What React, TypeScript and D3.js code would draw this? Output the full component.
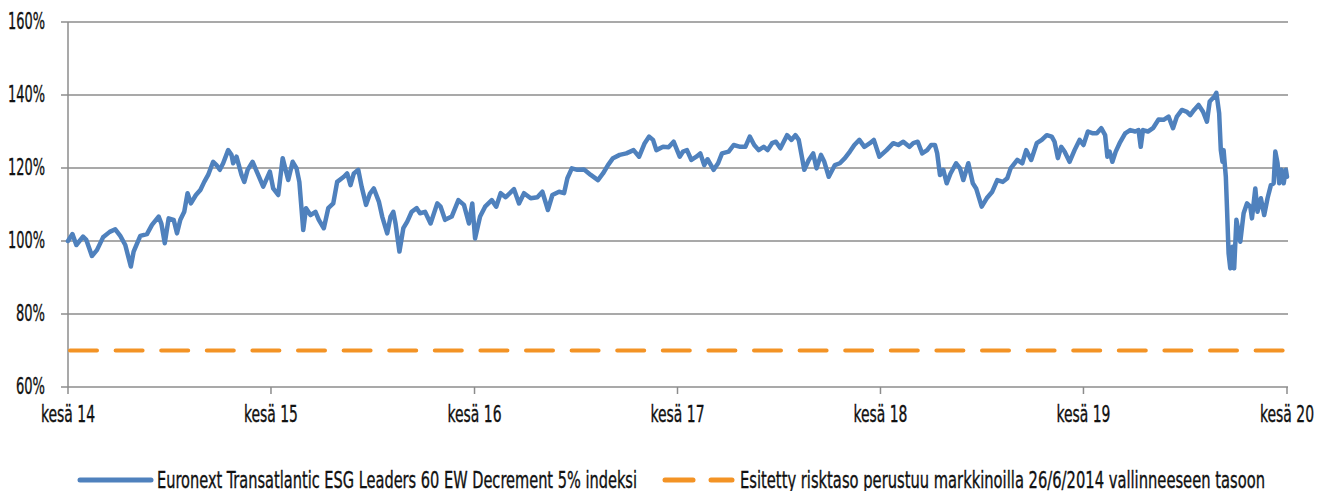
import { useMemo } from "react";
import * as d3 from "d3";

const WIDTH = 1330;
const HEIGHT = 491;
const MARGIN = { top: 22, right: 43, bottom: 104, left: 68 };

const FONT = "'Liberation Sans Narrow', 'DejaVu Sans Condensed', sans-serif";

const seriesNames = [
  "Euronext Transatlantic ESG Leaders 60 EW Decrement 5% indeksi",
  "Esitetty risktaso perustuu markkinoilla 26/6/2014 vallinneeseen tasoon",
];
const riskLevel = 70;

const yTicks = [60, 80, 100, 120, 140, 160];
const xTickDates = ["2014-06-26", "2015-06-26", "2016-06-26", "2017-06-26", "2018-06-26", "2019-06-26", "2020-06-26"];
const xTickLabels = ["kesä 14", "kesä 15", "kesä 16", "kesä 17", "kesä 18", "kesä 19", "kesä 20"];

// index level in % of 26/6/2014
const obsDates = [
  "2014-06-26", "2014-07-04", "2014-07-11", "2014-07-23", "2014-07-29", "2014-08-08", "2014-08-17", "2014-08-28",
  "2014-09-09", "2014-09-19", "2014-09-28", "2014-10-07", "2014-10-17", "2014-10-22", "2014-11-03", "2014-11-15",
  "2014-11-24", "2014-12-06", "2014-12-11", "2014-12-17", "2014-12-24",
  "2015-01-02", "2015-01-08", "2015-01-14", "2015-01-21", "2015-01-27", "2015-02-02", "2015-02-11", "2015-02-19",
  "2015-02-26", "2015-03-05", "2015-03-14", "2015-03-20", "2015-03-26", "2015-04-01", "2015-04-10", "2015-04-16",
  "2015-04-19", "2015-04-25", "2015-05-04", "2015-05-09", "2015-05-15", "2015-05-24", "2015-06-03", "2015-06-12",
  "2015-06-24", "2015-06-30", "2015-07-09", "2015-07-17", "2015-07-27", "2015-08-04", "2015-08-11", "2015-08-16",
  "2015-08-23", "2015-08-28", "2015-09-05", "2015-09-14", "2015-09-20", "2015-09-29", "2015-10-07", "2015-10-16",
  "2015-10-23", "2015-11-04", "2015-11-10", "2015-11-16", "2015-11-22", "2015-11-30", "2015-12-06", "2015-12-14",
  "2015-12-21", "2015-12-28",
  "2016-01-06", "2016-01-12", "2016-01-21", "2016-01-27", "2016-02-01", "2016-02-05", "2016-02-12", "2016-02-19",
  "2016-02-26", "2016-03-05", "2016-03-14", "2016-03-20", "2016-03-29", "2016-04-08", "2016-04-20", "2016-04-26",
  "2016-05-04", "2016-05-16", "2016-05-28", "2016-06-07", "2016-06-16", "2016-06-22", "2016-06-27", "2016-07-06",
  "2016-07-15", "2016-07-27", "2016-08-04", "2016-08-12", "2016-08-21", "2016-09-05", "2016-09-14", "2016-09-23",
  "2016-10-05", "2016-10-17", "2016-10-26", "2016-11-05", "2016-11-13", "2016-11-25", "2016-12-04", "2016-12-10",
  "2016-12-18", "2016-12-28",
  "2017-01-09", "2017-01-21", "2017-02-03", "2017-02-12", "2017-02-21", "2017-03-02", "2017-03-14", "2017-03-26",
  "2017-04-08", "2017-04-18", "2017-04-28", "2017-05-06", "2017-05-13", "2017-05-19", "2017-05-31", "2017-06-10",
  "2017-06-19", "2017-06-30", "2017-07-06", "2017-07-13", "2017-07-21", "2017-07-30", "2017-08-06", "2017-08-13",
  "2017-08-19", "2017-08-30", "2017-09-07", "2017-09-14", "2017-09-26", "2017-10-05", "2017-10-17", "2017-10-26",
  "2017-11-03", "2017-11-11", "2017-11-19", "2017-11-28", "2017-12-05", "2017-12-13", "2017-12-20", "2017-12-28",
  "2018-01-09", "2018-01-17", "2018-01-24", "2018-01-30", "2018-02-09", "2018-02-17", "2018-02-25", "2018-03-03",
  "2018-03-11", "2018-03-17", "2018-03-25", "2018-04-05", "2018-04-14", "2018-04-23", "2018-05-02", "2018-05-10",
  "2018-05-19", "2018-05-28", "2018-06-07", "2018-06-14", "2018-06-24", "2018-07-07", "2018-07-19", "2018-07-28",
  "2018-08-06", "2018-08-17", "2018-08-24", "2018-09-01", "2018-09-09", "2018-09-18", "2018-09-25", "2018-10-02",
  "2018-10-06", "2018-10-11", "2018-10-17", "2018-10-23", "2018-10-30", "2018-11-09", "2018-11-16", "2018-11-22",
  "2018-12-01", "2018-12-09", "2018-12-15", "2018-12-25",
  "2019-01-03", "2019-01-13", "2019-01-22", "2019-02-01", "2019-02-09", "2019-02-15", "2019-02-27", "2019-03-08",
  "2019-03-15", "2019-03-24", "2019-04-03", "2019-04-12", "2019-04-21", "2019-04-30", "2019-05-05", "2019-05-11",
  "2019-05-17", "2019-05-23", "2019-06-01", "2019-06-10", "2019-06-19", "2019-06-26", "2019-07-04", "2019-07-13",
  "2019-07-20", "2019-07-28", "2019-08-04", "2019-08-08", "2019-08-12", "2019-08-17", "2019-08-23", "2019-08-30",
  "2019-09-09", "2019-09-18", "2019-09-27", "2019-10-03", "2019-10-07", "2019-10-11", "2019-10-20", "2019-10-29",
  "2019-11-08", "2019-11-17", "2019-11-26", "2019-12-04", "2019-12-11", "2019-12-20", "2019-12-29",
  "2020-01-04", "2020-01-11", "2020-01-19", "2020-01-27", "2020-02-03", "2020-02-08", "2020-02-16", "2020-02-20",
  "2020-02-25", "2020-02-28", "2020-03-02", "2020-03-04", "2020-03-08", "2020-03-10", "2020-03-13", "2020-03-16",
  "2020-03-20", "2020-03-23", "2020-03-27", "2020-04-03", "2020-04-09", "2020-04-15", "2020-04-21", "2020-04-24",
  "2020-04-30", "2020-05-04", "2020-05-10", "2020-05-16", "2020-05-22", "2020-05-28", "2020-06-02", "2020-06-05",
  "2020-06-09", "2020-06-12", "2020-06-16", "2020-06-20", "2020-06-24", "2020-06-26",
];

const indexLevels = [
  100.0, 101.9, 98.9, 101.2, 100.3, 95.9, 97.5, 101.0,
  102.5, 103.2, 101.4, 98.9, 93.0, 97.1, 101.4, 101.9,
  104.4, 106.7, 104.7, 99.4, 106.2,
  105.8, 102.1, 105.8, 108.0, 113.1, 110.3, 112.6, 114.0,
  116.2, 118.1, 121.7, 120.8, 119.5, 121.3, 124.9, 123.6,
  121.3, 123.1, 118.1, 116.2, 119.5, 121.7, 118.1, 114.9,
  119.0, 114.4, 112.6, 122.7, 116.7, 121.7, 119.9, 116.2,
  103.0, 109.0, 107.1, 108.0, 105.8, 103.5, 109.0, 110.3,
  116.2, 117.6, 118.5, 115.3, 118.5, 119.5, 114.9, 109.9,
  113.0, 114.4,
  110.8, 106.7, 102.1, 106.7, 108.0, 104.8, 97.1, 103.5,
  105.3, 108.0, 109.0, 107.6, 108.0, 104.8, 110.3, 109.4,
  105.8, 106.7, 111.2, 109.9, 104.8, 110.3, 100.7, 106.7,
  109.4, 111.2, 109.4, 113.1, 112.0, 114.2, 110.3, 113.1,
  111.7, 112.0, 113.5, 108.5, 112.6, 113.5, 113.1, 117.2,
  119.9, 119.5,
  119.6, 118.1, 116.7, 118.5, 120.8, 122.7, 123.6, 124.0,
  124.9, 123.1, 126.8, 128.6, 127.7, 124.9, 125.8, 125.7,
  127.2, 123.1, 124.5, 124.9, 122.2, 123.1, 124.0, 120.8,
  122.4, 119.5, 121.3, 124.0, 124.5, 126.3, 125.8, 125.8,
  128.6, 126.3, 124.9, 125.8, 124.9, 126.8, 127.2, 125.4,
  129.0, 127.7, 129.0, 127.7, 119.5, 122.2, 124.0, 119.9,
  123.6, 121.7, 117.6, 120.8, 121.3, 122.7, 124.5, 126.3,
  127.7, 125.8, 126.8, 127.7, 123.1, 124.9, 126.8, 126.3,
  127.2, 125.8, 126.8, 127.2, 124.0, 124.9, 126.3, 126.3,
  124.0, 118.1, 119.5, 115.8, 118.5, 121.3, 119.9, 116.7,
  121.3, 115.8, 114.4, 109.4,
  111.7, 113.5, 116.7, 116.2, 117.2, 119.9, 122.2, 121.3,
  124.9, 122.2, 126.8, 127.7, 129.0, 128.6, 127.2, 122.7,
  125.8, 124.5, 121.7, 124.9, 127.7, 126.3, 130.0, 129.5,
  129.5, 130.9, 129.0, 123.1, 124.5, 121.7, 124.5, 126.8,
  129.5, 130.4, 130.0, 130.4, 125.8, 130.4, 130.0, 130.9,
  133.3, 133.2, 134.1, 130.9, 134.1, 135.9, 135.4,
  134.5, 135.9, 137.3, 135.4, 132.7, 138.2, 139.5, 140.6,
  135.0, 124.9, 121.7, 124.9, 117.6, 109.4, 96.6, 92.5,
  98.4, 92.5, 105.8, 99.8, 107.6, 110.3, 109.4, 106.2,
  114.4, 108.0, 111.7, 107.1, 111.7, 115.3, 115.8, 124.5,
  121.3, 115.8, 119.5, 115.8, 119.5, 117.6,
];

const parseDate = d3.timeParse("%Y-%m-%d");

export default function App() {
  const boundsWidth = WIDTH - MARGIN.left - MARGIN.right;
  const boundsHeight = HEIGHT - MARGIN.top - MARGIN.bottom;

  const data = useMemo(
    () => obsDates.map((d, i) => ({ date: parseDate(d), value: indexLevels[i] })),
    []
  );

  const xScale = d3
    .scaleTime()
    .domain([parseDate(xTickDates[0]), parseDate(xTickDates[xTickDates.length - 1])])
    .range([0, boundsWidth]);

  const yScale = d3.scaleLinear().domain([60, 160]).range([boundsHeight, 0]);

  const linePath = d3
    .line()
    .x((d) => xScale(d.date))
    .y((d) => yScale(d.value))(data);

  const gridColor = "#8c8c8c";
  const blue = "#4f81bd";
  const orange = "#f39325";
  // source font is a tall condensed face -> squeeze glyphs to the widths in the picture
  const textProps = {
    fontFamily: FONT,
    fontSize: 23,
    fill: "#111",
    stroke: "#111",
    strokeWidth: 0.35,
    lengthAdjust: "spacingAndGlyphs",
  };

  return (
    <svg
      width={WIDTH}
      height={HEIGHT}
      style={{ position: "absolute", left: 0, top: 0, background: "white" }}
    >
      <g transform={`translate(${MARGIN.left},${MARGIN.top})`}>
        {/* gridlines + y labels */}
        {yTicks.map((t) => (
          <g key={t}>
            <line x1={-7} x2={boundsWidth + 1} y1={yScale(t)} y2={yScale(t)} stroke={gridColor} strokeWidth={1.5} />
            <text
              x={-23}
              y={yScale(t) + 7}
              textAnchor="end"
              textLength={t >= 100 ? 37 : 29}
              {...textProps}
            >
              {t}%
            </text>
          </g>
        ))}
        {/* y axis */}
        <line x1={0} x2={0} y1={0} y2={boundsHeight} stroke={gridColor} strokeWidth={1.5} />
        {/* x ticks + labels */}
        {xTickDates.map((d, i) => {
          const x = xScale(parseDate(d));
          return (
            <g key={d}>
              <line x1={x} x2={x} y1={boundsHeight} y2={boundsHeight + 7} stroke={gridColor} strokeWidth={1.5} />
              <text
                x={x}
                y={boundsHeight + 35}
                textAnchor="middle"
                textLength={54}
                {...textProps}
              >
                {xTickLabels[i]}
              </text>
            </g>
          );
        })}
        {/* risk level */}
        <line
          x1={2}
          x2={boundsWidth - 1}
          y1={yScale(riskLevel)}
          y2={yScale(riskLevel)}
          stroke={orange}
          strokeWidth={4}
          strokeDasharray="27 18.6"
          strokeLinecap="round"
        />
        {/* index line */}
        <path d={linePath} fill="none" stroke={blue} strokeWidth={4.5} strokeLinejoin="round" strokeLinecap="round" />
      </g>

      {/* legend */}
      <g>
        <line x1={80} x2={151} y1={480} y2={480} stroke={blue} strokeWidth={5} strokeLinecap="round" />
        <text x={157} y={488} textLength={480} {...textProps}>
          {seriesNames[0]}
        </text>
        <line x1={665} x2={693} y1={480} y2={480} stroke={orange} strokeWidth={5} strokeLinecap="round" />
        <line x1={711} x2={732} y1={480} y2={480} stroke={orange} strokeWidth={5} strokeLinecap="round" />
        <text x={740} y={488} textLength={525} {...textProps}>
          {seriesNames[1]}
        </text>
      </g>
    </svg>
  );
}
